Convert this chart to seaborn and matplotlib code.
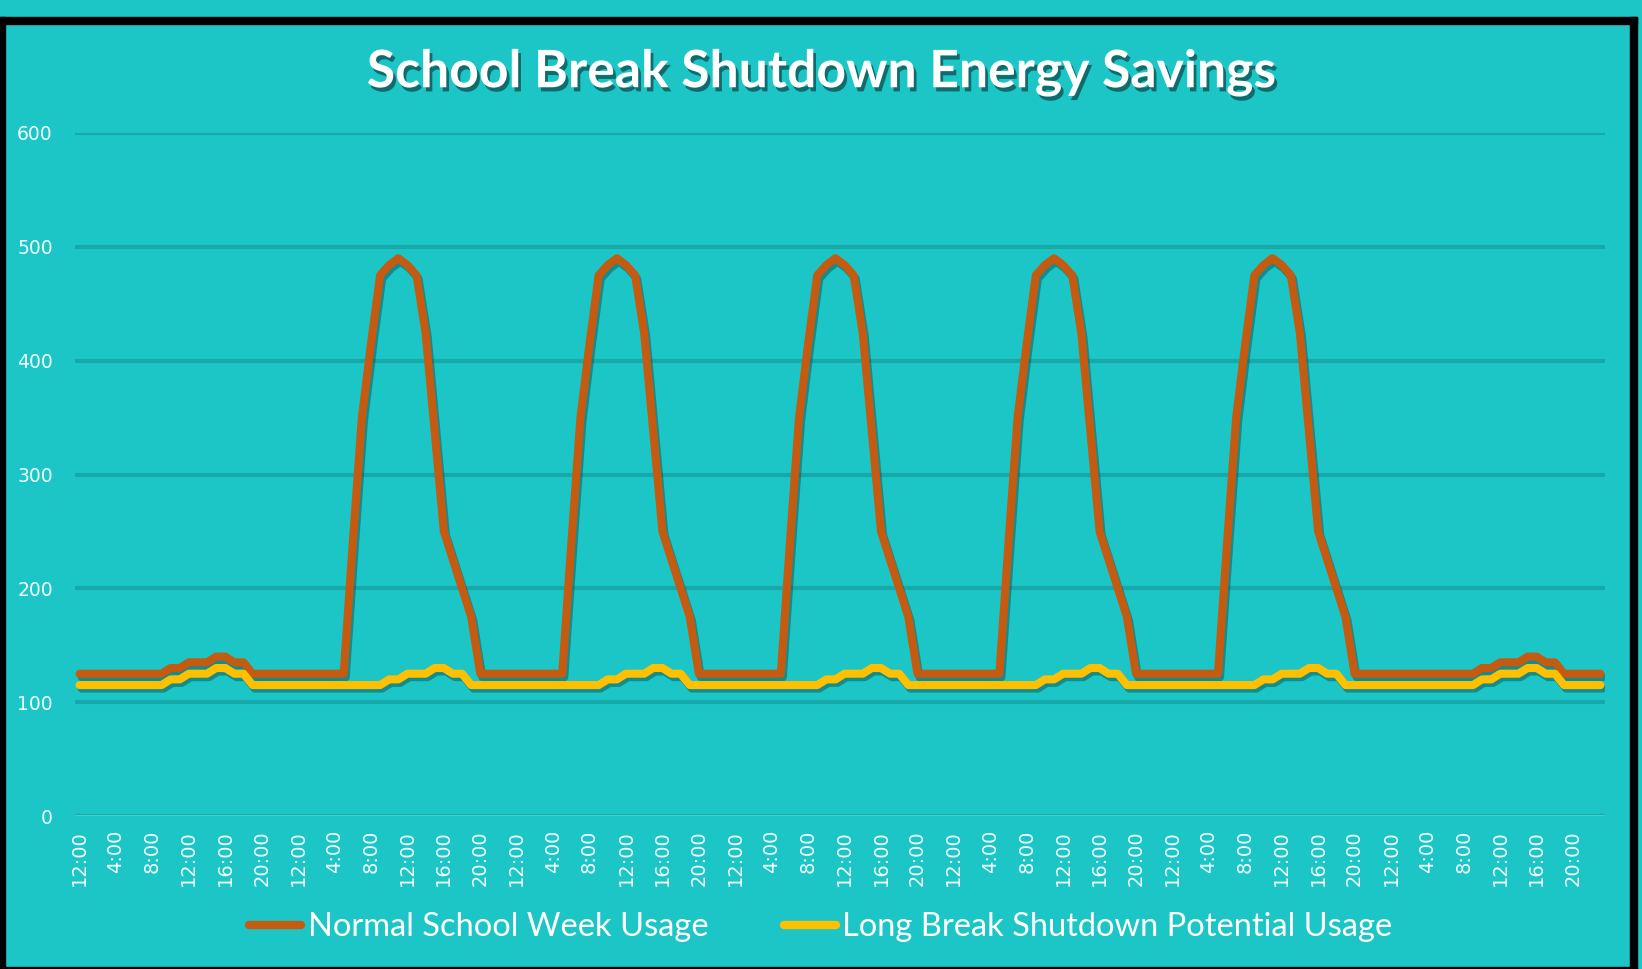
import matplotlib
matplotlib.use("Agg")
import matplotlib.pyplot as plt
import matplotlib.patheffects as pe
from matplotlib.patches import Rectangle
from matplotlib.lines import Line2D
import seaborn as sns
import pandas as pd

# hourly labels for one day (category axis shows every 4th)
hour_labels = ["12:00", "1:00", "2:00", "3:00", "4:00", "5:00", "6:00", "7:00",
               "8:00", "9:00", "10:00", "11:00", "12:00", "13:00", "14:00", "15:00",
               "16:00", "17:00", "18:00", "19:00", "20:00", "21:00", "22:00", "23:00"]

# daily load profiles (kW)
weekday_normal = [125, 125, 125, 125, 125, 125, 240, 350, 415, 475, 484, 490,
                  484, 475, 424, 337, 250, 225, 200, 175, 125, 125, 125, 125]
weekend_normal = [125, 125, 125, 125, 125, 125, 125, 125, 125, 125, 130, 130,
                  135, 135, 135, 140, 140, 135, 135, 125, 125, 125, 125, 125]
break_day = [115, 115, 115, 115, 115, 115, 115, 115, 115, 115, 120, 120,
             125, 125, 125, 130, 130, 125, 125, 115, 115, 115, 115, 115]

day_types = ["weekend", "weekday", "weekday", "weekday", "weekday", "weekday", "weekend"]

series_names = ["Normal School Week Usage", "Long Break Shutdown Potential Usage"]
series_colors = ["#C55A11", "#FFC000"]

BG = "#1CC6C6"
GRID = "#17A9A9"
TXT = "#F2FFFF"


def main():
    normal_usage = []
    break_usage = []
    for d in day_types:
        normal_usage += weekday_normal if d == "weekday" else weekend_normal
        break_usage += break_day
    n = len(normal_usage)

    df = pd.concat([
        pd.DataFrame({"hour": range(n), "usage": normal_usage, "series": series_names[0]}),
        pd.DataFrame({"hour": range(n), "usage": break_usage, "series": series_names[1]}),
    ])

    sns.set_theme(style="white", rc={"axes.facecolor": BG, "figure.facecolor": BG})

    fig = plt.figure(figsize=(16.42, 9.69), dpi=100)
    ax = fig.add_axes([75 / 1642, 1 - 816 / 969, 1530 / 1642, 683 / 969])

    sns.lineplot(data=df, x="hour", y="usage", hue="series",
                 palette=dict(zip(series_names, series_colors)),
                 linewidth=5.8, ax=ax, legend=False)

    for line in ax.lines:
        line.set_solid_joinstyle("round")
        line.set_solid_capstyle("round")
        line.set_path_effects([pe.SimpleLineShadow(offset=(1.5, -2.5), shadow_color="#084848", alpha=0.45),
                               pe.Normal()])

    ax.set_xlim(-0.5, n - 0.5)
    ax.set_ylim(0, 600)
    ax.set_yticks(range(0, 601, 100))
    ax.set_xticks(range(0, n, 4))
    ax.set_xticklabels([hour_labels[i % 24] for i in range(0, n, 4)], rotation=90)
    ax.set_xlabel("")
    ax.set_ylabel("")

    ax.yaxis.grid(True, color=GRID, linewidth=3)
    ax.xaxis.grid(False)
    ax.axhline(0, color="#3ECFCF", linewidth=1.5, zorder=1)
    ax.set_axisbelow(True)
    for s in ax.spines.values():
        s.set_visible(False)

    ax.tick_params(axis="y", length=0, pad=16, labelsize=13.5, labelcolor=TXT)
    ax.tick_params(axis="x", length=0, pad=10, labelsize=14, labelcolor=TXT)
    for lbl in ax.get_yticklabels() + ax.get_xticklabels():
        lbl.set_family("DejaVu Sans")

    fig.text(0.5, 1 - 73 / 969, "School Break Shutdown Energy Savings",
             ha="center", va="center", fontsize=37.2, fontweight="bold",
             color="white", family="Lato",
             path_effects=[pe.withSimplePatchShadow(offset=(2, -3), shadow_rgbFace="black", alpha=0.45)])

    handles = [Line2D([], [], color=c, linewidth=6, solid_capstyle="round") for c in series_colors]
    fig.legend(handles, series_names, loc="center", bbox_to_anchor=(0.5, 1 - 927 / 969),
               ncol=2, frameon=False, labelcolor="white",
               handlelength=1.6, handletextpad=0.2, columnspacing=2.3,
               prop={"family": "Lato", "size": 23.5})

    # black frame of the screenshot
    H, W = 969.0, 1642.0
    for (x0, y0, w, h) in [(0, 16.7, 1637, 7.3), (0, 16.7, 5, 952.3),
                           (1630, 16.7, 7, 952.3), (0, 967, 1637, 2)]:
        fig.patches.append(Rectangle((x0 / W, 1 - (y0 + h) / H), w / W, h / H,
                                     transform=fig.transFigure, color="black", zorder=10))

    fig.savefig("out.png", dpi=100, facecolor=BG)


if __name__ == "__main__":
    main()
